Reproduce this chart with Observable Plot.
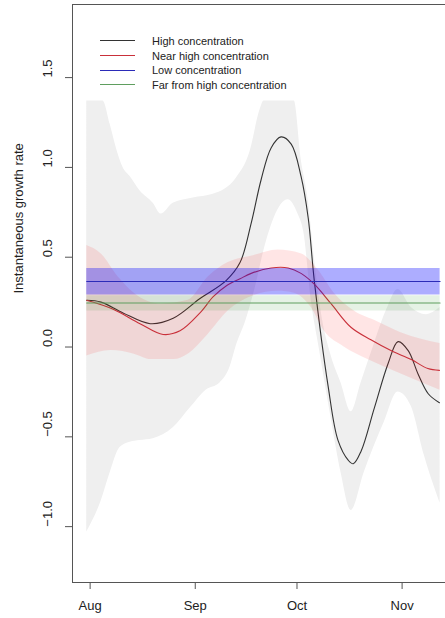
<!DOCTYPE html>
<html><head><meta charset="utf-8">
<script src="https://cdn.jsdelivr.net/npm/d3@7"></script>
<script src="https://cdn.jsdelivr.net/npm/@observablehq/plot@0.6"></script>
<style>
html,body{margin:0;padding:0;background:#fff;overflow:hidden;width:445px;height:618px;}
#wrap{position:relative;width:445px;height:618px;overflow:hidden;}
#wrap svg{max-width:none !important;width:454px;height:618px;display:block;}
#legend{position:absolute;left:100px;top:33.5px;font:11px "Liberation Sans",Arial,sans-serif;color:#222;}
.row{display:flex;align-items:center;height:14.7px;white-space:nowrap;}
.sw{width:35px;height:0;border-top:1.2px solid;margin-right:17px;}
</style></head><body><div id="wrap"><div id="legend"></div></div>
<script>
// ---- series / legend ----
const seriesNames = ["High concentration","Near high concentration","Low concentration","Far from high concentration"];
const seriesColors = ["#333333","#c9303a","#2b2bb8","#5f9e5f"];

// ---- axes ----
const xTickDays = [0, 31, 61, 92];
const xTickLabels = ["Aug","Sep","Oct","Nov"];
const yTicks = [-1, -0.5, 0, 0.5, 1, 1.5];
const yTickLabels = ["\u22121.0","\u22120.5","0.0","0.5","1.0","1.5"];
const yTitle = "Instantaneous growth rate";

// ---- High concentration (days from Aug 1) ----
const highDays = [-1, 3.2, 9.7, 17.7, 24.5, 32.4, 40.1, 44.2, 47.5, 50.4, 53.4, 56.3, 59.3, 62.2, 64.3, 66.1, 70.2, 73.1, 76.1, 77.6, 79.9, 83.8, 87.9, 90.8, 93.8, 96.7, 99.7, 103];
const highVals = [0.26, 0.25, 0.19, 0.13, 0.16, 0.27, 0.37, 0.47, 0.69, 0.93, 1.11, 1.17, 1.13, 0.95, 0.72, 0.37, -0.22, -0.52, -0.63, -0.65, -0.58, -0.34, -0.09, 0.03, -0.02, -0.15, -0.26, -0.31];
const highUpperDays = [-1, 3.8, 5.9, 7.7, 9.7, 11.8, 14.7, 18.6, 20.9, 24.5, 30.4, 36.3, 43.1, 47.2, 50.1, 51.3, 60.2, 62.2, 64.3, 66.1, 68.1, 71.1, 74.0, 77.0, 79.9, 83.5, 87.3, 90.8, 94.7, 99.1, 103.2];
const highUpperVals = [1.37, 1.37, 1.24, 1.11, 1.0, 0.95, 0.87, 0.80, 0.74, 0.80, 0.83, 0.85, 0.94, 1.09, 1.32, 1.37, 1.37, 1.05, 0.82, 0.5, 0.2, -0.05, -0.2, -0.36, -0.2, 0.0, 0.2, 0.32, 0.22, 0.18, 0.22];
const highLowerDays = [-1, 3.2, 5.9, 8.8, 11.8, 14.7, 18.6, 24.5, 29.5, 34.2, 38.3, 41.3, 43.0, 46.0, 48.7, 51.3, 54.3, 58.4, 61.3, 63.1, 65.2, 67.5, 71.1, 74.0, 77.0, 80.8, 86.7, 90.8, 94.7, 98.5, 103.2];
const highLowerVals = [-1.03, -0.86, -0.7, -0.56, -0.53, -0.52, -0.51, -0.45, -0.34, -0.24, -0.2, -0.11, 0.0, 0.15, 0.33, 0.54, 0.72, 0.82, 0.74, 0.63, 0.26, 0.0, -0.4, -0.7, -0.91, -0.7, -0.42, -0.25, -0.33, -0.6, -0.87];

// ---- Near high concentration ----
const nearDays = [-1, 6.8, 14.7, 21.5, 26.5, 32.4, 36.3, 40.1, 44.2, 47.5, 53.4, 58.4, 62.2, 66.1, 71.1, 76.9, 82.8, 88.7, 94.7, 99.6, 103];
const nearVals = [0.26, 0.21, 0.13, 0.07, 0.09, 0.19, 0.28, 0.34, 0.38, 0.41, 0.44, 0.44, 0.41, 0.35, 0.24, 0.11, 0.04, -0.02, -0.07, -0.12, -0.13];
const nearUpperDays = [-1, 3.2, 8.3, 13.0, 20.9, 28.9, 34.8, 40.7, 48.4, 55.4, 62.2, 67.2, 72.0, 77.9, 84.9, 91.7, 103.2];
const nearUpperVals = [0.565, 0.52, 0.39, 0.30, 0.24, 0.26, 0.39, 0.47, 0.51, 0.54, 0.52, 0.43, 0.30, 0.20, 0.14, 0.08, 0.02];
const nearLowerDays = [-1, 6.2, 13.0, 18.0, 24.8, 28.9, 34.8, 40.7, 47.5, 55.4, 60.2, 65.2, 69.0, 74.9, 81.9, 91.7, 103.2];
const nearLowerVals = [-0.05, -0.02, -0.04, -0.07, -0.07, -0.04, 0.07, 0.20, 0.28, 0.31, 0.30, 0.22, 0.09, 0.00, -0.07, -0.15, -0.24];

// ---- Low / Far (constant estimates) ----
const flatDays = [-1, 103.2];
const lowVals = [0.365, 0.365];
const lowLower = [0.29, 0.29];
const lowUpper = [0.437, 0.437];
const farVals = [0.245, 0.245];
const farLower = [0.20, 0.20];
const farUpper = [0.285, 0.285];

// ---- helpers ----
const base = Date.UTC(2020, 7, 1);
const toDate = d => new Date(base + d * 864e5);
const lineData = (days, vals) => days.map((d, i) => ({x: toDate(d), y: vals[i]}));
const bandData = (loD, loV, hiD, hiV) => loD.map((d, i) => ({x1: toDate(d), y1: loV[i], x2: toDate(hiD[i]), y2: hiV[i]}));
const xTickDates = xTickDays.map(toDate);
const xLabelOf = new Map(xTickDates.map((d, i) => [+d, xTickLabels[i]]));

const font = "Liberation Sans, Arial, Helvetica, sans-serif";

const chart = Plot.plot({
  width: 454, height: 618,
  marginLeft: 72, marginTop: 4, marginBottom: 36, marginRight: 0,
  style: {fontFamily: font, fontSize: "13px", color: "#222", background: "white"},
  x: {type: "utc", domain: [toDate(-5.2), toDate(107.45)]},
  y: {domain: [-1.311, 1.907]},
  marks: [
    Plot.area(bandData(highLowerDays, highLowerVals, highUpperDays, highUpperVals), {x1: "x1", y1: "y1", x2: "x2", y2: "y2", fill: "#efefef", curve: "monotone-x"}),
    Plot.line(lineData(highDays, highVals), {x: "x", y: "y", stroke: seriesColors[0], strokeWidth: 1.1, curve: "catmull-rom"}),
    Plot.area(bandData(nearLowerDays, nearLowerVals, nearUpperDays, nearUpperVals), {x1: "x1", y1: "y1", x2: "x2", y2: "y2", fill: "red", fillOpacity: 0.1, curve: "monotone-x"}),
    Plot.line(lineData(nearDays, nearVals), {x: "x", y: "y", stroke: seriesColors[1], strokeWidth: 1.1, curve: "catmull-rom"}),
    Plot.areaY(flatDays.map((d, i) => ({x: toDate(d), y1: lowLower[i], y2: lowUpper[i]})), {x: "x", y1: "y1", y2: "y2", fill: "blue", fillOpacity: 0.32}),
    Plot.line(lineData(flatDays, lowVals), {x: "x", y: "y", stroke: seriesColors[2], strokeWidth: 1.1}),
    Plot.areaY(flatDays.map((d, i) => ({x: toDate(d), y1: farLower[i], y2: farUpper[i]})), {x: "x", y1: "y1", y2: "y2", fill: "green", fillOpacity: 0.1}),
    Plot.line(lineData(flatDays, farVals), {x: "x", y: "y", stroke: seriesColors[3], strokeWidth: 1.1}),
    Plot.frame({stroke: "#555"}),
    Plot.axisY(yTicks, {tickSize: 7, tickFormat: () => "", stroke: "#555", label: null}),
    Plot.text(yTicks, {y: d => d, text: (d, i) => yTickLabels[i], frameAnchor: "left", dx: -25, rotate: -90, fontSize: 13, fill: "#222"}),
    Plot.text([yTitle], {text: d => d, frameAnchor: "left", dx: -54, rotate: -90, fontSize: 13, fill: "#222"}),
    Plot.axisX(xTickDates, {tickSize: 7, tickPadding: 11, tickFormat: d => xLabelOf.get(+d), stroke: "#555", fontSize: 13, fill: "#222", label: null})
  ]
});
document.getElementById("wrap").prepend(chart);

// legend overlay inside plot area
const lg = document.getElementById("legend");
seriesNames.forEach((name, i) => {
  const row = document.createElement("div");
  row.className = "row";
  const sw = document.createElement("span");
  sw.className = "sw";
  sw.style.borderTopColor = seriesColors[i];
  const t = document.createElement("span");
  t.textContent = name;
  row.append(sw, t);
  lg.append(row);
});
</script></body></html>
